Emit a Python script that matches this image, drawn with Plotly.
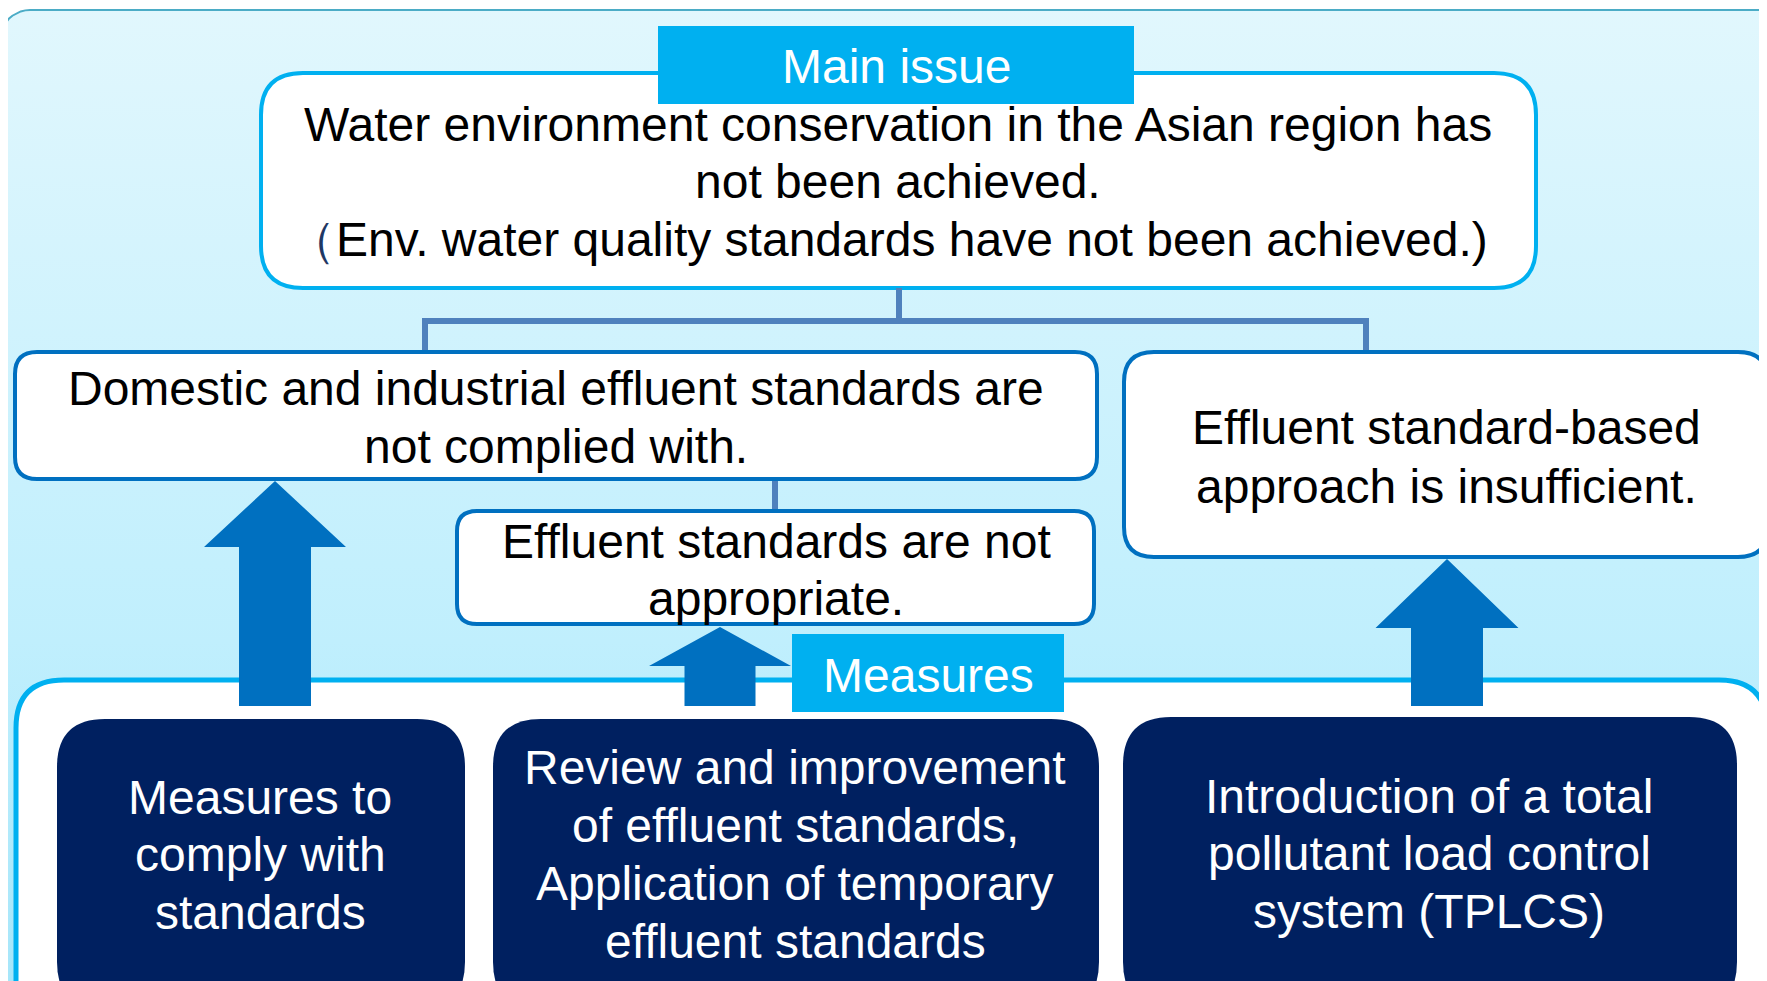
import math
import plotly.graph_objects as go

W, H = 1767, 981
OFF = 8  # default page body margin

# ---- text content ----
main_label = "Main issue"
main_lines = [
    "Water environment conservation in the Asian region has",
    "not been achieved.",
    "<span style='color:#1f3864'>（</span>Env. water quality standards have not been achieved.)",
]
left_lines = ["Domestic and industrial effluent standards are", "not complied with."]
right_lines = ["Effluent standard-based", "approach is insufficient."]
mid_lines = ["Effluent standards are not", "appropriate."]
measures_label = "Measures"
measure1_lines = ["Measures to", "comply with", "standards"]
measure2_lines = ["Review and improvement", "of effluent standards,",
                  "Application of temporary", "effluent standards"]
measure3_lines = ["Introduction of a total", "pollutant load control", "system (TPLCS)"]

# ---- colours ----
C_LABEL = "#00b0f0"
C_BOX_BORDER = "#0070c0"
C_CONN = "#4f81bd"
C_ARROW = "#0070c0"
C_NAVY = "#002060"
FONT = "Liberation Sans, Arial, sans-serif"
FS = 48


def rr(x0, y0, x1, y1, r):
    return (f"M {x0+r},{y0} L {x1-r},{y0} Q {x1},{y0} {x1},{y0+r} "
            f"L {x1},{y1-r} Q {x1},{y1} {x1-r},{y1} L {x0+r},{y1} "
            f"Q {x0},{y1} {x0},{y1-r} L {x0},{y0+r} Q {x0},{y0} {x0+r},{y0} Z")


def arrow(cx, tip, head_base, head_w, shaft_w, bottom):
    hw, sw = head_w / 2, shaft_w / 2
    return (f"M {cx},{tip} L {cx+hw},{head_base} L {cx+sw},{head_base} "
            f"L {cx+sw},{bottom} L {cx-sw},{bottom} L {cx-sw},{head_base} "
            f"L {cx-hw},{head_base} Z")


fig = go.Figure()

# background panel with vertical gradient (rounded top-left corner)
bx, by = [], []
r = 30
for k in range(0, 11):
    a = math.pi + k * (math.pi / 2) / 10
    bx.append(r + r * math.cos(a))
    by.append(10 + r + r * math.sin(a))
bx += [W + 20, W + 20, 0, 0]
by += [10, H + 20, H + 20, 10 + r]
fig.add_trace(go.Scatter(
    x=bx, y=by, mode="lines", fill="toself",
    line=dict(color="#4bacc6", width=2),
    fillgradient=dict(type="vertical",
                      colorscale=[[0, "#e1f7fd"], [0.65, "#c0effd"], [1, "#a6e6fa"]],
                      start=10, stop=H),
    hoverinfo="skip", showlegend=False))

shapes = []
# main issue box
shapes.append(dict(type="path", path=rr(261, 73, 1536, 288, 42),
                   fillcolor="white", line=dict(color=C_LABEL, width=4)))
shapes.append(dict(type="rect", x0=658, x1=1134, y0=26, y1=104,
                   fillcolor=C_LABEL, line=dict(width=0)))
# connectors
conn = dict(color=C_CONN, width=6)
shapes.append(dict(type="line", x0=899, x1=899, y0=288, y1=321, line=conn))
shapes.append(dict(type="line", x0=422, x1=1369, y0=321, y1=321, line=conn))
shapes.append(dict(type="line", x0=425, x1=425, y0=318, y1=352, line=conn))
shapes.append(dict(type="line", x0=1366, x1=1366, y0=318, y1=352, line=conn))
shapes.append(dict(type="line", x0=775, x1=775, y0=480, y1=512, line=conn))
# cause boxes
shapes.append(dict(type="path", path=rr(15, 352, 1097, 479, 22),
                   fillcolor="white", line=dict(color=C_BOX_BORDER, width=4)))
shapes.append(dict(type="path", path=rr(1124, 352, 1768, 557, 30),
                   fillcolor="white", line=dict(color=C_BOX_BORDER, width=4)))
shapes.append(dict(type="path", path=rr(457, 511, 1094, 624, 20),
                   fillcolor="white", line=dict(color=C_BOX_BORDER, width=4)))
# measures panel
shapes.append(dict(type="path", path=rr(16, 680, 1767, 1040, 48),
                   fillcolor="white", line=dict(color=C_LABEL, width=5)))
shapes.append(dict(type="rect", x0=792, x1=1064, y0=634, y1=712,
                   fillcolor=C_LABEL, line=dict(width=0)))
# navy measure boxes
shapes.append(dict(type="path", path=rr(57, 719, 465, 1010, 48),
                   fillcolor=C_NAVY, line=dict(width=0)))
shapes.append(dict(type="path", path=rr(493, 719, 1099, 1010, 48),
                   fillcolor=C_NAVY, line=dict(width=0)))
shapes.append(dict(type="path", path=rr(1123, 717, 1737, 1010, 48),
                   fillcolor=C_NAVY, line=dict(width=0)))
# arrows
shapes.append(dict(type="path", path=arrow(275, 481, 547, 142, 72, 706),
                   fillcolor=C_ARROW, line=dict(width=0)))
shapes.append(dict(type="path", path=arrow(720, 627, 666, 142, 71, 706),
                   fillcolor=C_ARROW, line=dict(width=0)))
shapes.append(dict(type="path", path=arrow(1447, 559, 628, 143, 72, 706),
                   fillcolor=C_ARROW, line=dict(width=0)))
for s in shapes:
    s.update(xref="x", yref="y")
fig.update_layout(shapes=shapes)

anns = []


def add_lines(lines, xcs, ys, color="black"):
    if not isinstance(xcs, (list, tuple)):
        xcs = [xcs] * len(lines)
    for t, xc, yy in zip(lines, xcs, ys):
        anns.append(dict(x=xc, y=yy, xref="x", yref="y", text=t, showarrow=False,
                         xanchor="center", yanchor="middle",
                         font=dict(family=FONT, size=FS, color=color)))


add_lines([main_label], 896, [66], "white")
add_lines(main_lines, [898, 898, 888], [124, 181, 239])
add_lines(left_lines, 556, [388, 446])
add_lines(right_lines, 1446, [427, 486])
add_lines(mid_lines, 776, [541, 598])
add_lines([measures_label], 928, [675], "white")
add_lines(measure1_lines, 260, [797, 854, 912], "white")
add_lines(measure2_lines, 795, [767, 825, 883, 941], "white")
add_lines(measure3_lines, 1429, [796, 853, 911], "white")
fig.update_layout(annotations=anns)

fig.update_layout(
    width=W - OFF, height=H - OFF, margin=dict(l=0, r=0, t=0, b=0),
    paper_bgcolor="white", plot_bgcolor="white",
    xaxis=dict(range=[OFF, W], visible=False, fixedrange=True),
    yaxis=dict(range=[H, OFF], visible=False, fixedrange=True),
    showlegend=False,
)
fig.write_html("out.html")
